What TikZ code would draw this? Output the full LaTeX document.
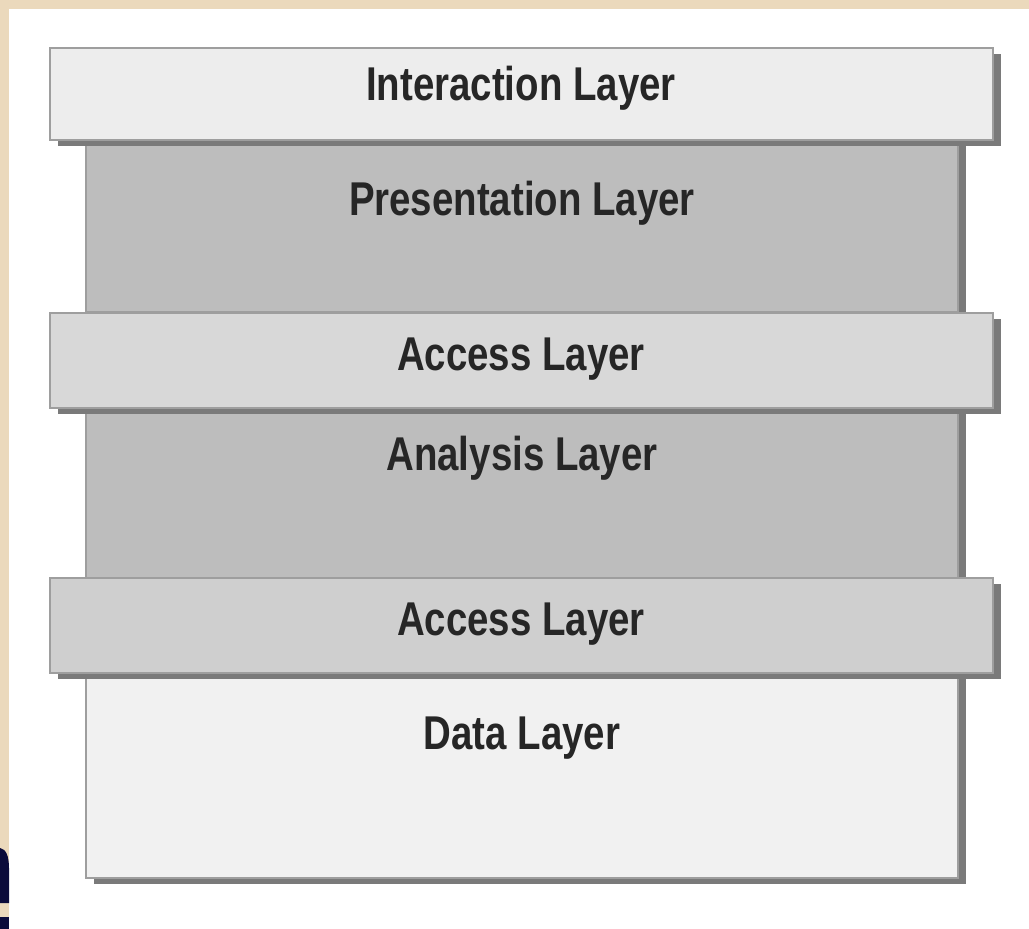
\documentclass[tikz,border=0pt]{standalone}
\usepackage{fontspec}
\setmainfont{Liberation Sans}[FakeStretch=0.81]
\usetikzlibrary{positioning, shadows}

\definecolor{paper}{HTML}{EBD9BC}
\definecolor{navyglyph}{HTML}{0B0B3A}
\definecolor{lightbar}{HTML}{EDEDED}
\definecolor{accessbar}{HTML}{D8D8D8}
\definecolor{darkbar}{HTML}{BDBDBD}
\definecolor{databar}{HTML}{F1F1F1}

\begin{document}
\begin{tikzpicture}[x=0.02cm, y=-0.02cm,
  layer/.style={draw=black!38, line width=0.8pt, inner sep=0pt,
    drop shadow={shadow xshift=4.5pt, shadow yshift=-3.4pt, fill=black!52, opacity=1}},
  wide layer/.style={layer, minimum width=18.86cm},
  narrow layer/.style={layer, minimum width=17.44cm},
  layer text/.style={font=\fontsize{27}{30}\selectfont\bfseries, text=black!85,
    anchor=base, inner sep=0pt}]

\useasboundingbox (0,0) rectangle (1029,929);

% --- Frame ---
\fill[paper] (0,0) rectangle (1029,929);
\fill[white] (9,9) rectangle (1029,929);
\fill[navyglyph] (0,848) .. controls (6,849) and (9,856) .. (9,868)
  -- (9,903) -- (0,903) -- cycle;
\fill[navyglyph] (0,917) rectangle (9,929);

% --- Tall layers (drawn first, the bars overlap them) ---
\node[narrow layer, fill=darkbar, minimum height=3.44cm] (presentation) at (522,226) {};
\node[narrow layer, fill=darkbar, minimum height=3.40cm] (analysis) at (522,493) {};
\node[narrow layer, fill=databar, minimum height=4.10cm] (data) at (522,775.5) {};

% --- Bars ---
\node[wide layer, fill=lightbar, minimum height=1.84cm] (interaction) at (521.5,94) {};
\node[wide layer, fill=accessbar, minimum height=1.90cm] (access top) at (521.5,360.5) {};
\node[wide layer, fill=accessbar!96!black, minimum height=1.90cm] (access bottom) at (521.5,625.5) {};

% --- Labels ---
\node[layer text] (interaction text) at (521,101) {Interaction Layer};
\node[layer text] (presentation text) at (522,216) {Presentation Layer};
\node[layer text] (access top text) at (521,371) {Access Layer};
\node[layer text] (analysis text) at (522,471) {Analysis Layer};
\node[layer text] (access bottom text) at (521,636) {Access Layer};
\node[layer text] (data text) at (522,749) {Data Layer};

\end{tikzpicture}
\end{document}
